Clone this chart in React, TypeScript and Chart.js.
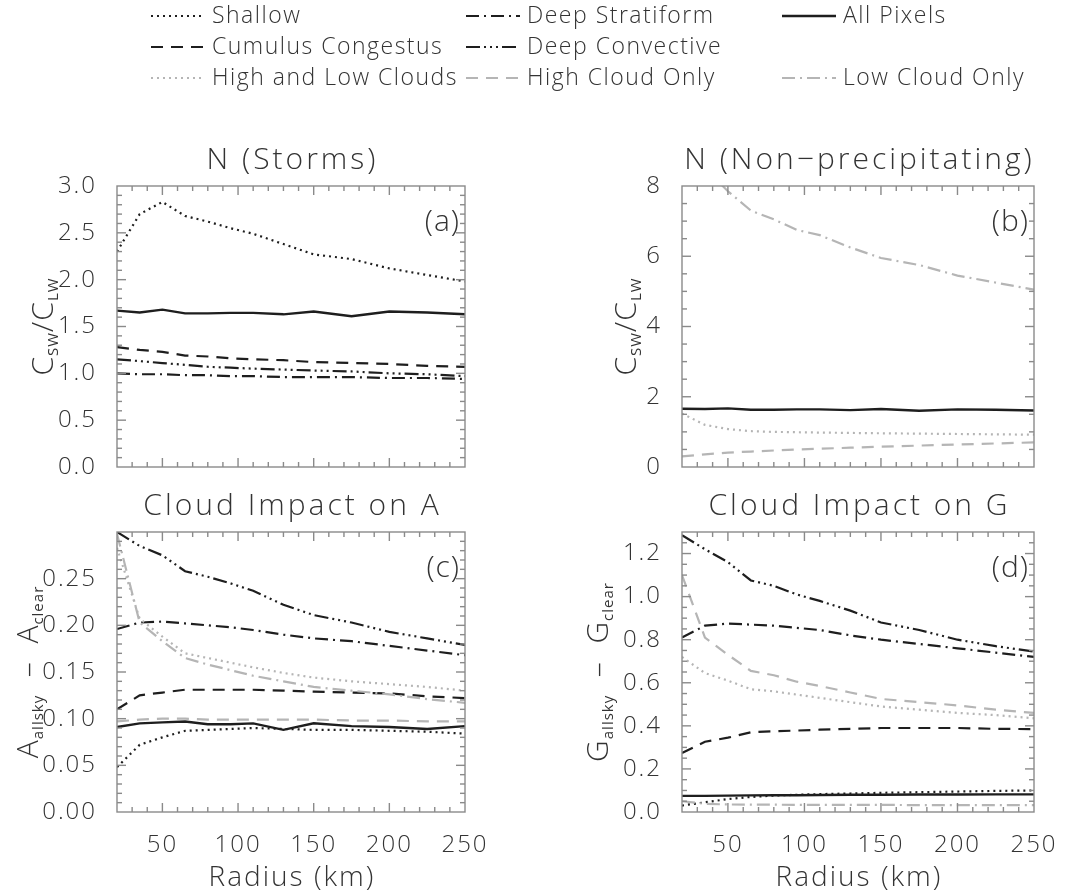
import React, { useEffect, useRef } from "react";
import { Chart, registerables } from "chart.js";
Chart.register(...registerables);

const FONT = '"Open Sans", "DejaVu Sans", Arial, sans-serif';
const TEXT = "#333333";
const AXIS = "#8a8a8a";
const BLACK = "#1e1e1e";
const GRAY = "#b5b5b5";

// ---------------- data ----------------
const radius = [20, 35, 50, 65, 80, 95, 110, 130, 150, 175, 200, 225, 250];
const xTickValues = [50, 100, 150, 200, 250];

// (a) N (Storms)
const nStormShallow = [2.3, 2.7, 2.83, 2.68, 2.62, 2.55, 2.49, 2.38, 2.27, 2.22, 2.12, 2.05, 1.98];
const nStormCongestus = [1.28, 1.25, 1.23, 1.19, 1.18, 1.16, 1.15, 1.14, 1.12, 1.11, 1.1, 1.08, 1.07];
const nStormStratiform = [1.0, 0.99, 0.99, 0.98, 0.98, 0.97, 0.97, 0.96, 0.96, 0.96, 0.95, 0.95, 0.94];
const nStormConvective = [1.15, 1.13, 1.11, 1.09, 1.07, 1.06, 1.05, 1.04, 1.03, 1.02, 1.0, 0.99, 0.97];
const nStormAllPixels = [1.67, 1.65, 1.68, 1.64, 1.64, 1.645, 1.645, 1.63, 1.66, 1.61, 1.66, 1.65, 1.63];
const nStormTicks = [0, 0.5, 1, 1.5, 2, 2.5, 3];

// (b) N (Non-precipitating)
const nNonHighLow = [1.52, 1.2, 1.08, 1.02, 1.0, 0.99, 0.98, 0.97, 0.96, 0.95, 0.94, 0.93, 0.92];
const nNonHighOnly = [0.3, 0.36, 0.41, 0.44, 0.47, 0.5, 0.52, 0.55, 0.58, 0.61, 0.64, 0.67, 0.7];
const nNonLowOnly = [9.8, 8.5, 7.85, 7.3, 7.05, 6.75, 6.6, 6.25, 5.95, 5.75, 5.45, 5.25, 5.05];
const nNonAllPixels = [1.66, 1.65, 1.67, 1.63, 1.63, 1.64, 1.64, 1.62, 1.65, 1.6, 1.64, 1.63, 1.61];
const nNonTicks = [0, 2, 4, 6, 8];

// (c) Cloud Impact on A
const aConvective = [0.3, 0.285, 0.275, 0.258, 0.252, 0.245, 0.237, 0.222, 0.211, 0.203, 0.193, 0.186, 0.179];
const aStratiform = [0.196, 0.203, 0.204, 0.202, 0.2, 0.198, 0.195, 0.19, 0.186, 0.183, 0.178, 0.173, 0.168];
const aHighLow = [0.283, 0.207, 0.188, 0.17, 0.165, 0.16, 0.155, 0.149, 0.144, 0.14, 0.137, 0.134, 0.13];
const aLowOnly = [0.298, 0.203, 0.183, 0.165, 0.158, 0.152, 0.146, 0.14, 0.134, 0.13, 0.126, 0.121, 0.117];
const aCongestus = [0.11, 0.125, 0.128, 0.131, 0.131, 0.131, 0.131, 0.13, 0.129, 0.128, 0.127, 0.124, 0.122];
const aHighOnly = [0.097, 0.099, 0.1, 0.1, 0.099, 0.099, 0.099, 0.099, 0.099, 0.098, 0.098, 0.097, 0.097];
const aAllPixels = [0.091, 0.095, 0.096, 0.097, 0.094, 0.094, 0.095, 0.088, 0.095, 0.092, 0.091, 0.089, 0.092];
const aShallow = [0.048, 0.072, 0.08, 0.087, 0.088, 0.089, 0.09, 0.089, 0.088, 0.088, 0.087, 0.086, 0.084];
const aTicks = [0, 0.05, 0.1, 0.15, 0.2, 0.25];

// (d) Cloud Impact on G
const gConvective = [1.285, 1.22, 1.16, 1.075, 1.05, 1.01, 0.98, 0.935, 0.88, 0.845, 0.8, 0.77, 0.745];
const gStratiform = [0.81, 0.865, 0.875, 0.87, 0.865, 0.855, 0.845, 0.82, 0.8, 0.78, 0.76, 0.74, 0.72];
const gHighOnly = [1.1, 0.81, 0.73, 0.655, 0.635, 0.605, 0.585, 0.555, 0.525, 0.51, 0.495, 0.475, 0.46];
const gHighLow = [0.72, 0.645, 0.61, 0.57, 0.56, 0.545, 0.53, 0.51, 0.49, 0.475, 0.46, 0.45, 0.435];
const gCongestus = [0.274, 0.326, 0.345, 0.37, 0.375, 0.378, 0.382, 0.386, 0.39, 0.39, 0.39, 0.386, 0.385];
const gAllPixels = [0.075, 0.075, 0.076, 0.077, 0.078, 0.078, 0.079, 0.08, 0.08, 0.081, 0.081, 0.082, 0.082];
const gShallow = [0.03, 0.045, 0.06, 0.07, 0.076, 0.08, 0.083, 0.086, 0.089, 0.092, 0.095, 0.098, 0.1];
const gLowOnly = [0.05, 0.038, 0.035, 0.034, 0.034, 0.033, 0.033, 0.033, 0.033, 0.032, 0.032, 0.032, 0.032];
const gTicks = [0, 0.2, 0.4, 0.6, 0.8, 1.0, 1.2];

// ---------------- styles ----------------
type Style = { color: string; dash: number[]; width: number };
const STYLES: Record<string, Style> = {
  shallow: { color: BLACK, dash: [2, 4], width: 2.2 },
  congestus: { color: BLACK, dash: [12, 8], width: 2.2 },
  stratiform: { color: BLACK, dash: [13, 5, 2, 5], width: 2.2 },
  convective: { color: BLACK, dash: [14, 4, 2, 4, 2, 4, 2, 4], width: 2.2 },
  all: { color: BLACK, dash: [], width: 2.4 },
  highLow: { color: GRAY, dash: [2, 4], width: 2.2 },
  highOnly: { color: GRAY, dash: [12, 8], width: 2.2 },
  lowOnly: { color: GRAY, dash: [13, 5, 2, 5], width: 2.2 },
};

const LEGEND = [
  { key: "shallow", name: "Shallow", col: 0, row: 0 },
  { key: "stratiform", name: "Deep Stratiform", col: 1, row: 0 },
  { key: "all", name: "All Pixels", col: 2, row: 0 },
  { key: "congestus", name: "Cumulus Congestus", col: 0, row: 1 },
  { key: "convective", name: "Deep Convective", col: 1, row: 1 },
  { key: "highLow", name: "High and Low Clouds", col: 0, row: 2 },
  { key: "highOnly", name: "High Cloud Only", col: 1, row: 2 },
  { key: "lowOnly", name: "Low Cloud Only", col: 2, row: 2 },
];
const LEG_COL_X = [151, 466, 782];
const LEG_ROW_Y = [16, 47, 78];
const SAMPLE_W = 54;

type Part = { text: string; sub?: boolean };
type Panel = {
  title: string;
  tag: string;
  box: [number, number, number, number];
  yMin: number;
  yMax: number;
  yTicks: number[];
  yDec: number;
  yMinor: number;
  yMajor: number;
  yTitle: Part[];
  yTitleX: number;
  bottom: boolean;
  legend?: boolean;
  series: { key: string; data: number[] }[];
};

const CSW: Part[] = [{ text: "C" }, { text: "SW", sub: true }, { text: "/" }, { text: "C" }, { text: "LW", sub: true }];

const PANELS: Panel[] = [
  {
    title: "N (Storms)", tag: "(a)", box: [117, 186, 465, 467],
    yMin: 0, yMax: 3, yTicks: nStormTicks, yDec: 1, yMinor: 0.1, yMajor: 0.5,
    yTitle: CSW, yTitleX: 42, bottom: false, legend: true,
    series: [
      { key: "shallow", data: nStormShallow },
      { key: "all", data: nStormAllPixels },
      { key: "congestus", data: nStormCongestus },
      { key: "convective", data: nStormConvective },
      { key: "stratiform", data: nStormStratiform },
    ],
  },
  {
    title: "N (Non\u2212precipitating)", tag: "(b)", box: [682, 186, 1034, 467],
    yMin: 0, yMax: 8, yTicks: nNonTicks, yDec: 0, yMinor: 0.5, yMajor: 2,
    yTitle: CSW, yTitleX: 625, bottom: false,
    series: [
      { key: "lowOnly", data: nNonLowOnly },
      { key: "all", data: nNonAllPixels },
      { key: "highLow", data: nNonHighLow },
      { key: "highOnly", data: nNonHighOnly },
    ],
  },
  {
    title: "Cloud Impact on A", tag: "(c)", box: [117, 532, 465, 812],
    yMin: 0, yMax: 0.3, yTicks: aTicks, yDec: 2, yMinor: 0.01, yMajor: 0.05,
    yTitle: [{ text: "A" }, { text: "allsky", sub: true }, { text: "  \u2013  " }, { text: "A" }, { text: "clear", sub: true }],
    yTitleX: 27, bottom: true,
    series: [
      { key: "highLow", data: aHighLow },
      { key: "lowOnly", data: aLowOnly },
      { key: "highOnly", data: aHighOnly },
      { key: "convective", data: aConvective },
      { key: "stratiform", data: aStratiform },
      { key: "congestus", data: aCongestus },
      { key: "all", data: aAllPixels },
      { key: "shallow", data: aShallow },
    ],
  },
  {
    title: "Cloud Impact on G", tag: "(d)", box: [682, 532, 1034, 812],
    yMin: 0, yMax: 1.3, yTicks: gTicks, yDec: 1, yMinor: 0.05, yMajor: 0.2,
    yTitle: [{ text: "G" }, { text: "allsky", sub: true }, { text: "  \u2013  " }, { text: "G" }, { text: "clear", sub: true }],
    yTitleX: 597, bottom: true,
    series: [
      { key: "highLow", data: gHighLow },
      { key: "lowOnly", data: gLowOnly },
      { key: "highOnly", data: gHighOnly },
      { key: "convective", data: gConvective },
      { key: "stratiform", data: gStratiform },
      { key: "congestus", data: gCongestus },
      { key: "all", data: gAllPixels },
      { key: "shallow", data: gShallow },
    ],
  },
];

const W = 1072;
const H = 893;
const Y_AXIS_W = 80;
const X_AXIS_H = 60;

const isMult = (v: number, step: number) => Math.abs(v / step - Math.round(v / step)) < 1e-6;

const decor = {
  id: "decor",
  beforeLayout(chart: any) {
    chart.ctx.letterSpacing = "2px";
  },
  beforeDraw(chart: any) {
    chart.ctx.letterSpacing = "2px";
  },
  afterDraw(chart: any, _a: any, o: any) {
    const p: Panel = o.panel;
    const { ctx, chartArea: ca } = chart;
    const xs = chart.scales.x;
    const ys = chart.scales.y;
    ctx.save();
    ctx.letterSpacing = "0px";
    ctx.strokeStyle = AXIS;
    ctx.lineWidth = 1.4;
    const seg = (x1: number, y1: number, x2: number, y2: number) => {
      ctx.beginPath();
      ctx.moveTo(x1, y1);
      ctx.lineTo(x2, y2);
      ctx.stroke();
    };
    const nx = Math.round((xs.max - xs.min) / 10);
    for (let i = 1; i < nx; i++) {
      const v = xs.min + i * 10;
      const px = xs.getPixelForValue(v);
      const len = isMult(v, 50) ? 9 : 5;
      seg(px, ca.bottom, px, ca.bottom - len);
      seg(px, ca.top, px, ca.top + len);
    }
    const ny = Math.round((p.yMax - p.yMin) / p.yMinor);
    for (let i = 1; i < ny; i++) {
      const v = p.yMin + i * p.yMinor;
      const py = ys.getPixelForValue(v);
      const len = isMult(v, p.yMajor) ? 9 : 5;
      seg(ca.left, py, ca.left + len, py);
      seg(ca.right, py, ca.right - len, py);
    }
    ctx.strokeRect(ca.left, ca.top, ca.right - ca.left, ca.bottom - ca.top);

    ctx.fillStyle = TEXT;
    // title
    ctx.font = `300 30px ${FONT}`;
    ctx.letterSpacing = "3px";
    ctx.textAlign = "center";
    ctx.textBaseline = "middle";
    ctx.fillText(p.title, (ca.left + ca.right) / 2 + 1.5, ca.top - 26);
    // panel tag
    ctx.textAlign = "right";
    ctx.letterSpacing = "1px";
    ctx.fillText(p.tag, ca.right - 5, ca.top + 36);
    // x title
    if (p.bottom) {
      ctx.font = `300 28px ${FONT}`;
      ctx.letterSpacing = "2px";
      ctx.textAlign = "center";
      ctx.fillText("Radius (km)", (ca.left + ca.right) / 2 + 1, 878);
    }
    // legend (drawn once, on the first panel's canvas)
    if (p.legend) {
      ctx.font = `300 23px ${FONT}`;
      ctx.letterSpacing = "1.5px";
      ctx.textAlign = "left";
      ctx.textBaseline = "middle";
      LEGEND.forEach((l) => {
        const st = STYLES[l.key];
        const x = LEG_COL_X[l.col];
        const y = LEG_ROW_Y[l.row];
        ctx.save();
        ctx.strokeStyle = st.color;
        ctx.lineWidth = st.width;
        ctx.setLineDash(st.dash);
        seg(x, y, x + SAMPLE_W, y);
        ctx.restore();
        ctx.fillStyle = TEXT;
        ctx.fillText(l.name, x + SAMPLE_W + 7, y);
      });
    }
    // y title with subscripts
    ctx.letterSpacing = "1px";
    ctx.translate(p.yTitleX, (ca.top + ca.bottom) / 2);
    ctx.rotate(-Math.PI / 2);
    ctx.textAlign = "left";
    ctx.textBaseline = "alphabetic";
    const mainF = `300 30px ${FONT}`;
    const subF = `400 15px ${FONT}`;
    const widths = p.yTitle.map((part) => {
      ctx.font = part.sub ? subF : mainF;
      return ctx.measureText(part.text).width;
    });
    const total = widths.reduce((s, w) => s + w, 0);
    let x = -total / 2;
    p.yTitle.forEach((part, i) => {
      ctx.font = part.sub ? subF : mainF;
      ctx.fillText(part.text, x, part.sub ? 16 : 11);
      x += widths[i];
    });
    ctx.restore();
  },
};

function PanelChart({ panel }: { panel: Panel }) {
  const ref = useRef<HTMLCanvasElement>(null);
  useEffect(() => {
    const [L, T, R, B] = panel.box;
    const datasets = panel.series.map((s) => {
      const st = STYLES[s.key];
      const name = LEGEND.find((l) => l.key === s.key)!.name;
      return {
        label: name,
        data: radius.map((r, i) => ({ x: r, y: s.data[i] })),
        borderColor: st.color,
        borderDash: st.dash,
        borderWidth: st.width,
        pointRadius: 0,
        tension: 0,
        fill: false,
      };
    });
    const chart = new Chart(ref.current!, {
      type: "line",
      data: { datasets },
      plugins: [decor],
      options: {
        animation: false,
        responsive: false,
        devicePixelRatio: 1,
        layout: {
          padding: {
            left: L - Y_AXIS_W,
            top: T,
            right: W - R,
            bottom: panel.bottom ? H - B - X_AXIS_H : H - B,
          },
        },
        plugins: {
          legend: { display: false },
          tooltip: { enabled: false },
          decor: { panel },
        } as any,
        scales: {
          x: {
            type: "linear",
            min: 20,
            max: 250,
            display: panel.bottom,
            grid: { display: false },
            border: { display: false },
            afterBuildTicks: (s: any) => {
              s.ticks = xTickValues.map((v) => ({ value: v }));
            },
            afterFit: (s: any) => {
              s.height = panel.bottom ? X_AXIS_H : 0;
            },
            ticks: {
              color: TEXT,
              padding: 11,
              maxRotation: 0,
              autoSkip: false,
              font: { family: FONT, size: 24, weight: "300" },
              callback: (v: any) => String(v),
            },
          },
          y: {
            type: "linear",
            min: panel.yMin,
            max: panel.yMax,
            grid: { display: false },
            border: { display: false },
            afterBuildTicks: (s: any) => {
              s.ticks = panel.yTicks.map((v) => ({ value: v }));
            },
            afterFit: (s: any) => {
              s.width = Y_AXIS_W;
            },
            ticks: {
              color: TEXT,
              padding: 12,
              autoSkip: false,
              font: { family: FONT, size: 24, weight: "300" },
              callback: (v: any) => Number(v).toFixed(panel.yDec),
            },
          },
        },
      } as any,
    });
    return () => chart.destroy();
  }, [panel]);
  return (
    <canvas
      ref={ref}
      width={W}
      height={H}
      style={{ position: "absolute", left: 0, top: 0, width: W, height: H }}
    />
  );
}

export default function App() {
  return (
    <div
      style={{
        position: "fixed",
        left: 0,
        top: 0,
        width: W,
        height: H,
        background: "#ffffff",
        overflow: "hidden",
      }}
    >
      {PANELS.map((p) => (
        <PanelChart key={p.tag} panel={p} />
      ))}
    </div>
  );
}
